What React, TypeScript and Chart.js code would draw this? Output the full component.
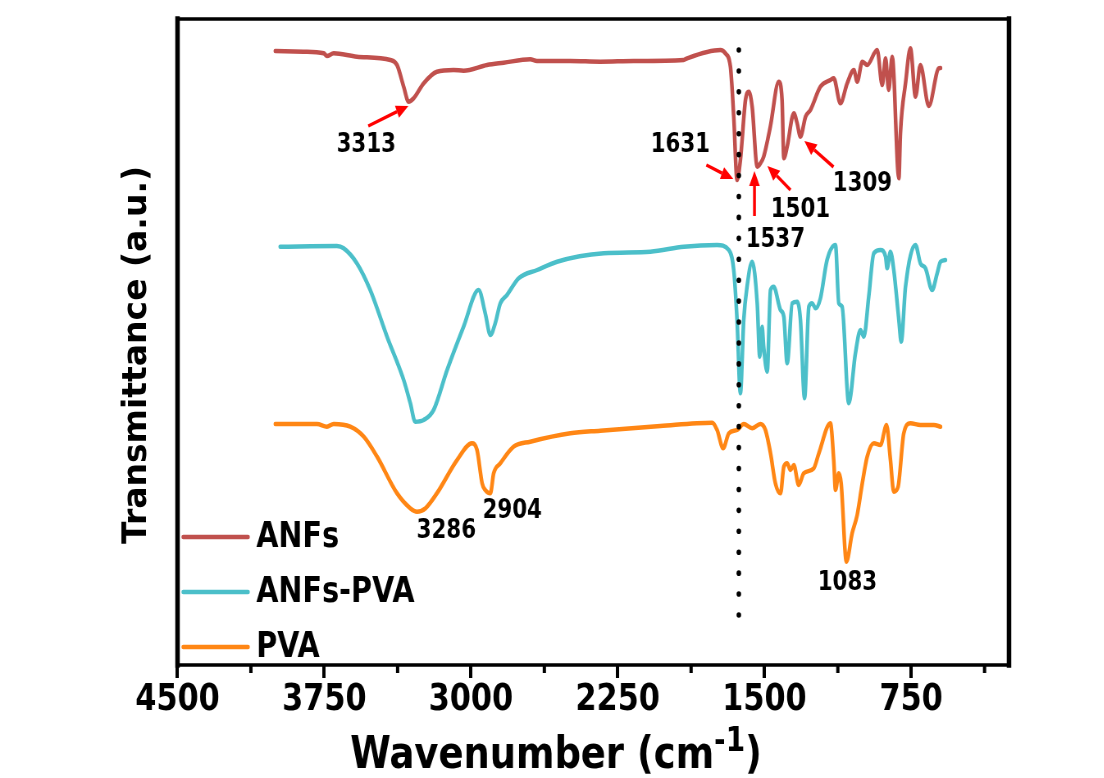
import React, { useEffect, useRef } from 'react';
import { Chart, registerables } from 'chart.js';

Chart.register(...registerables);

// ---------- data ----------
const SERIES_NAMES = ['ANFs', 'ANFs-PVA', 'PVA'];
const SERIES_COLORS = ['#C0504D', '#4BBFC9', '#FF8614'];

const ANFS_WN = [4000, 3856, 3753, 3736, 3702, 3583, 3412, 3378, 3344, 3319, 3293, 3242, 3174, 3089, 3038, 2918, 2833, 2697, 2663, 2492, 2339, 2168, 1913, 1895, 1725, 1700, 1674, 1657, 1640, 1623, 1597, 1580, 1563, 1537, 1521, 1504, 1470, 1427, 1410, 1401, 1384, 1350, 1333, 1316, 1290, 1265, 1214, 1163, 1146, 1112, 1077, 1043, 1026, 1000, 975, 924, 898, 881, 865, 847, 813, 805, 779, 754, 728, 703, 660, 609, 600];
const ANFS_T = [614, 613.3, 611.7, 609, 611.7, 608.3, 605, 600, 578.3, 563.3, 566.7, 581.7, 593.3, 595, 594.3, 600, 602.3, 605.7, 604, 604, 603.3, 604, 605, 606.7, 615, 611.7, 598.3, 548.3, 485, 505, 565, 573.3, 558.3, 498.3, 501.7, 508.3, 538.3, 583.3, 565, 506.7, 518.3, 551.7, 541.7, 528.3, 548.3, 555, 578.3, 585, 586.7, 561.7, 581.7, 595, 583.3, 603.3, 600, 615, 580, 606.7, 575, 608.3, 486.7, 531.7, 581.7, 616.7, 568.3, 600, 559, 596.7, 597];

const ANFSPVA_WN = [3975, 3685, 3651, 3583, 3515, 3429, 3344, 3310, 3285, 3242, 3191, 3122, 3038, 2961, 2927, 2901, 2876, 2850, 2816, 2756, 2662, 2560, 2321, 2083, 1912, 1742, 1682, 1657, 1640, 1623, 1606, 1589, 1563, 1537, 1524, 1512, 1504, 1486, 1469, 1453, 1418, 1401, 1384, 1358, 1333, 1316, 1295, 1273, 1256, 1239, 1214, 1180, 1137, 1120, 1103, 1069, 1035, 1009, 992, 967, 941, 907, 881, 873, 856, 839, 813, 801, 779, 728, 703, 677, 643, 617, 600, 575];
const ANFSPVA_T = [418.3, 419, 416.7, 401.7, 375, 328.3, 285, 261.7, 243.3, 245, 255, 295, 338.3, 375, 351.7, 330, 341.7, 361.7, 370, 386.7, 395, 403.3, 411.7, 413.3, 418.3, 420, 415, 395, 345, 271.7, 345, 378.3, 403.3, 361.7, 308.3, 338.3, 318.3, 293.3, 375, 378.3, 355, 348.3, 301.7, 361.7, 363.3, 345, 266.7, 358.3, 361.7, 356.7, 366.7, 405, 420, 361.7, 358.3, 261.7, 311.7, 335, 328.3, 368.3, 411.7, 415, 408.3, 396.7, 413.3, 395, 345, 323.3, 378.3, 420, 401.7, 396.7, 375, 391.7, 403.3, 405];

const PVA_WN = [4000, 3787, 3736, 3702, 3617, 3548, 3480, 3378, 3310, 3276, 3233, 3174, 3071, 2995, 2969, 2943, 2927, 2901, 2884, 2850, 2782, 2697, 2492, 2339, 2032, 1767, 1742, 1711, 1682, 1640, 1606, 1563, 1521, 1495, 1469, 1444, 1418, 1401, 1384, 1367, 1350, 1325, 1299, 1248, 1222, 1163, 1146, 1137, 1120, 1108, 1081, 1052, 1026, 1000, 975, 941, 907, 876, 856, 839, 817, 788, 754, 703, 634, 600];
const PVA_T = [241, 241, 238.3, 241, 238.3, 228.3, 208.3, 171.7, 156.7, 153.3, 156.7, 171.7, 205, 221.7, 215, 181.7, 175, 171.7, 191.7, 201.7, 218.3, 223.3, 231.7, 234.3, 239, 242.3, 235, 216.7, 231.7, 235, 241, 236.7, 241, 235, 211.7, 181.7, 171.7, 198.3, 201.7, 195, 200, 180, 191.7, 196.7, 211.7, 241.7, 205, 175, 191.7, 181.7, 103.3, 131.7, 150, 181.7, 208.3, 221.7, 220, 240, 205, 173.3, 178.3, 231.7, 241.7, 240, 240, 238.3];

const X_TICKS = [4500, 3750, 3000, 2250, 1500, 750];
const X_MINOR_TICKS = [4125, 3375, 2625, 1875, 1125, 375];
const X_MIN = 250;
const X_MAX = 4500;
const Y_MIN = 0;
const Y_MAX = 646;

const MARKER_WN = 1631;
const MARKER_T = [615, 50];

const PEAK_LABELS = ['3313', '1631', '1537', '1501', '1309', '3286', '2904', '1083'];
const PEAK_LABEL_WN = [3535, 1930, 1444, 1316, 999, 3126, 2789, 1076];
const PEAK_LABEL_T = [520, 520, 425, 455, 481, 134, 154, 82];

const ARROW_FROM_WN = [3525, 1797, 1551, 1367, 1147];
const ARROW_FROM_T = [539, 500, 449, 475, 498];
const ARROW_TO_WN = [3320, 1659, 1551, 1485, 1296];
const ARROW_TO_T = [559, 486, 494, 499, 524];

const X_TITLE = 'Wavenumber (cm';
const X_TITLE_SUP = '-1';
const X_TITLE_END = ')';
const Y_TITLE = 'Transmittance (a.u.)';

// ---------- layout ----------
const SX = 0.82; // horizontal squeeze of the figure
const VIEW_W = 1104;
const VIEW_H = 778;
const CANVAS_W = Math.round(VIEW_W / SX);
const FONT = '"DejaVu Sans", Verdana, sans-serif';

const decorPlugin = {
  id: 'decor',
  afterDraw(chart: any) {
    const ctx = chart.ctx;
    const { left, right, top, bottom } = chart.chartArea;
    const xs = chart.scales.x;
    const ys = chart.scales.y;
    ctx.save();

    // minor ticks
    ctx.strokeStyle = '#000';
    ctx.lineWidth = 4;
    X_MINOR_TICKS.forEach((v) => {
      const px = xs.getPixelForValue(v);
      ctx.beginPath();
      ctx.moveTo(px, bottom);
      ctx.lineTo(px, bottom + 8);
      ctx.stroke();
    });

    // frame
    ctx.lineCap = 'square';
    ctx.lineWidth = 3.5;
    ctx.beginPath();
    ctx.moveTo(left, top);
    ctx.lineTo(right, top);
    ctx.moveTo(left, bottom);
    ctx.lineTo(right, bottom);
    ctx.stroke();
    ctx.lineWidth = 5.5;
    ctx.beginPath();
    ctx.moveTo(left, top);
    ctx.lineTo(left, bottom);
    ctx.moveTo(right, top);
    ctx.lineTo(right, bottom);
    ctx.stroke();

    // arrows
    ctx.strokeStyle = '#FF0000';
    ctx.fillStyle = '#FF0000';
    ctx.lineCap = 'butt';
    ctx.lineWidth = 3.5;
    ARROW_FROM_WN.forEach((_, i) => {
      const x1 = xs.getPixelForValue(ARROW_FROM_WN[i]);
      const y1 = ys.getPixelForValue(ARROW_FROM_T[i]);
      const x2 = xs.getPixelForValue(ARROW_TO_WN[i]);
      const y2 = ys.getPixelForValue(ARROW_TO_T[i]);
      const a = Math.atan2(y2 - y1, x2 - x1);
      const hl = 15;
      const hw = 6.5;
      const bx = x2 - Math.cos(a) * hl;
      const by = y2 - Math.sin(a) * hl;
      ctx.beginPath();
      ctx.moveTo(x1, y1);
      ctx.lineTo(bx, by);
      ctx.stroke();
      ctx.beginPath();
      ctx.moveTo(x2, y2);
      ctx.lineTo(bx + Math.sin(a) * hw, by - Math.cos(a) * hw);
      ctx.lineTo(bx - Math.sin(a) * hw, by + Math.cos(a) * hw);
      ctx.closePath();
      ctx.fill();
    });

    // marker dots (vertical dotted line at 1631 cm-1)
    ctx.fillStyle = '#000';
    const mx = xs.getPixelForValue(MARKER_WN);
    const my0 = ys.getPixelForValue(MARKER_T[0]);
    const my1 = ys.getPixelForValue(MARKER_T[1]);
    const nDots = 28;
    for (let k = 0; k < nDots; k++) {
      const yy = my0 + ((my1 - my0) * k) / (nDots - 1);
      ctx.beginPath();
      ctx.arc(mx, yy, 2.8, 0, Math.PI * 2);
      ctx.fill();
    }

    // peak labels
    ctx.fillStyle = '#000';
    ctx.font = `bold 26px ${FONT}`;
    ctx.textAlign = 'center';
    ctx.textBaseline = 'middle';
    PEAK_LABELS.forEach((t, i) => {
      ctx.fillText(t, xs.getPixelForValue(PEAK_LABEL_WN[i]), ys.getPixelForValue(PEAK_LABEL_T[i]));
    });

    // legend (bottom-left inside plot)
    const rows = [bottom - 128, bottom - 73, bottom - 18];
    ctx.textAlign = 'left';
    ctx.font = `bold 35px ${FONT}`;
    SERIES_NAMES.forEach((name, i) => {
      const ds = chart.data.datasets[i];
      ctx.strokeStyle = ds.borderColor;
      ctx.lineWidth = 4.5;
      ctx.lineCap = 'round';
      ctx.beginPath();
      ctx.moveTo(left + 7, rows[i]);
      ctx.lineTo(left + 86, rows[i]);
      ctx.stroke();
      ctx.fillStyle = '#000';
      ctx.fillText(name, left + 96, rows[i] + 1);
    });

    // x title with superscript
    ctx.textBaseline = 'alphabetic';
    ctx.fillStyle = '#000';
    const fMain = `bold 45px ${FONT}`;
    const fSup = `bold 34px ${FONT}`;
    ctx.font = fMain;
    const w1 = ctx.measureText(X_TITLE).width;
    const w3 = ctx.measureText(X_TITLE_END).width;
    ctx.font = fSup;
    const w2 = ctx.measureText(X_TITLE_SUP).width;
    const cx = left + (556 - 177.5) / SX;
    let sx = cx - (w1 + w2 + w3) / 2;
    const base = 768;
    ctx.font = fMain;
    ctx.fillText(X_TITLE, sx, base);
    sx += w1;
    ctx.font = fSup;
    ctx.fillText(X_TITLE_SUP, sx, base - 17);
    sx += w2;
    ctx.font = fMain;
    ctx.fillText(X_TITLE_END, sx, base);

    // y title (drawn without the horizontal squeeze)
    ctx.save();
    ctx.translate(137 / SX, 355);
    ctx.scale(1 / SX, 1);
    ctx.rotate(-Math.PI / 2);
    ctx.font = `bold 33px ${FONT}`;
    ctx.textAlign = 'center';
    ctx.textBaseline = 'middle';
    ctx.fillText(Y_TITLE, 0, 0);
    ctx.restore();

    ctx.restore();
  },
};

export default function App() {
  const ref = useRef<HTMLCanvasElement | null>(null);

  useEffect(() => {
    if (!ref.current) return;
    const mk = (wn: number[], t: number[]) => wn.map((x, i) => ({ x, y: t[i] }));
    const series = [
      mk(ANFS_WN, ANFS_T),
      mk(ANFSPVA_WN, ANFSPVA_T),
      mk(PVA_WN, PVA_T),
    ];
    const chart = new Chart(ref.current, {
      type: 'line',
      data: {
        datasets: series.map((d, i) => ({
          label: SERIES_NAMES[i],
          data: d,
          borderColor: SERIES_COLORS[i],
          backgroundColor: SERIES_COLORS[i],
          borderWidth: 4.5,
          pointRadius: 0,
          cubicInterpolationMode: 'monotone' as const,
          borderJoinStyle: 'round' as const,
          borderCapStyle: 'round' as const,
          fill: false,
        })),
      },
      options: {
        responsive: false,
        animation: false,
        devicePixelRatio: 1,
        layout: { padding: { left: 177.5 / SX, right: CANVAS_W - 1009 / SX, top: 19, bottom: 0 } },
        plugins: { legend: { display: false }, tooltip: { enabled: false } },
        scales: {
          x: {
            type: 'linear',
            reverse: true,
            min: X_MIN,
            max: X_MAX,
            afterBuildTicks: (s: any) => {
              s.ticks = X_TICKS.map((v) => ({ value: v }));
            },
            afterFit: (s: any) => {
              s.height = VIEW_H - 665;
            },
            ticks: {
              autoSkip: false,
              maxRotation: 0,
              padding: 0,
              color: '#000',
              font: { family: FONT, size: 37, weight: 'bold' },
              callback: (v: any) => String(v),
            },
            grid: {
              display: true,
              drawOnChartArea: false,
              drawTicks: true,
              tickLength: 13,
              lineWidth: 4,
              color: '#000',
            },
            border: { display: false },
          },
          y: {
            type: 'linear',
            display: false,
            min: Y_MIN,
            max: Y_MAX,
          },
        },
      },
      plugins: [decorPlugin],
    });
    return () => chart.destroy();
  }, []);

  return (
    <div
      style={{
        position: 'fixed',
        left: 0,
        top: 0,
        width: VIEW_W,
        height: VIEW_H,
        overflow: 'hidden',
        background: '#fff',
      }}
    >
      <canvas
        ref={ref}
        width={CANVAS_W}
        height={VIEW_H}
        style={{ display: 'block', transform: `scaleX(${SX})`, transformOrigin: '0 0' }}
      />
    </div>
  );
}
